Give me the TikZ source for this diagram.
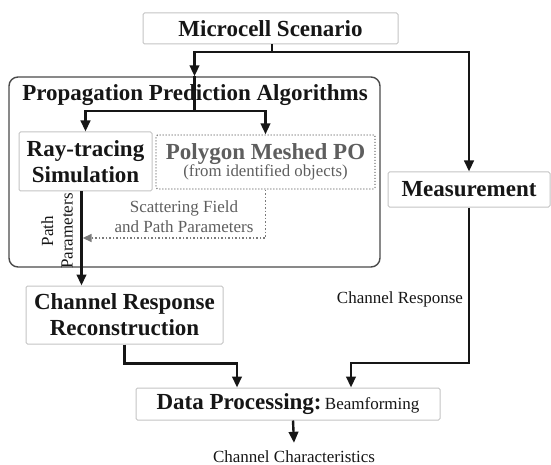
\documentclass[tikz,border=0pt]{standalone}
\usepackage{fontspec}
\setmainfont{Liberation Serif}
\usetikzlibrary{arrows.meta}

\definecolor{ink}{HTML}{161616}
\definecolor{boxgray}{HTML}{C4C4C4}
\definecolor{framegray}{HTML}{4A4A4A}
\definecolor{softgray}{HTML}{5E5E5E}
\definecolor{dotgray}{HTML}{7A7A7A}

\begin{document}
\begin{tikzpicture}[x=1pt,y=-1pt,
  box/.style={draw=boxgray, line width=1pt, rounded corners=1.5pt, inner sep=0pt,
              align=center, text=ink, fill=white},
  big/.style={font=\fontsize{23}{26}\selectfont\bfseries},
  small/.style={font=\fontsize{17}{19.5}\selectfont},
  wire/.style={line width=2.4pt, draw=ink},
  flow/.style={wire, -{Triangle[length=11pt,width=9.5pt]}},
  dotflow/.style={line width=1.5pt, draw=dotgray, dotted,
                  -{Triangle[length=9pt,width=8pt,fill=dotgray]}},
]
\useasboundingbox (0,0) rectangle (551,465);

% outer frame of the prediction block
\node[draw=framegray, line width=1.4pt, rounded corners=9pt, minimum width=371pt,
      minimum height=190pt, inner sep=0pt] (ppa) at (194.5,172) {};
\node[big, text=ink] (ppatitle) at (195,95) {Propagation Prediction Algorithms};

% boxes
\node[box, big, minimum width=255pt, minimum height=31pt] (scen) at (270.5,28.5) {Microcell Scenario};
\node[box, big, minimum width=133pt, minimum height=59pt] (ray) at (85.5,161.5)
  {Ray-tracing\\Simulation};
\node[box, draw=dotgray, dotted, line width=1.3pt, minimum width=219pt, minimum height=54pt,
      text=softgray] (po) at (265.5,162)
  {\fontsize{23}{24}\selectfont\bfseries Polygon Meshed PO\\[-1pt]
   \fontsize{16.8}{18}\selectfont (from identified objects)};
\node[box, big, minimum width=162pt, minimum height=35pt] (meas) at (469,189.5) {Measurement};
\node[box, big, minimum width=197pt, minimum height=58pt] (cr) at (124.5,315)
  {Channel Response\\Reconstruction};
\node[box, minimum width=304pt, minimum height=32pt] (dp) at (288,404)
  {{\fontsize{23}{26}\selectfont\bfseries Data Processing:} {\fontsize{17}{19}\selectfont Beamforming}};

% plain labels
\node[small, text=ink, inner sep=0pt] (out) at (294,457) {Channel Characteristics};
\node[small, text=ink, inner sep=0pt] (chresp) at (400,299) {Channel Response};
\node[small, text=softgray, align=center, inner sep=0pt] (scat) at (184,216.5)
  {Scattering Field\\and Path Parameters};
\node[small, text=ink, align=center, inner sep=0pt, rotate=90] (pathp) at (57,231)
  {Path\\Parameters};

% connectors from the scenario
\draw[wire] ([xshift=1.5pt]scen.south) -- ++(0,7.5) coordinate (split);
\draw[flow] (split) -| (ppa.north);
\draw[flow] (split) -| (meas.north);

% inside the prediction block
\draw[wire] (ppa.north) -- ++(0,35) coordinate (split2);
\draw[flow] (split2) -| (ray.north);
\draw[flow] (split2) -| (po.north);

\path (ray.south) ++(-4,0) coordinate (rtout);
\draw[flow] (rtout) -- (rtout |- cr.north);
\draw[dotflow, shorten >=1.2pt] (po.south) |- (rtout |- 0,238);

% into data processing
\path (dp.north) ++(-51,0) coordinate (dpin1);
\path (dp.north) ++(63,0) coordinate (dpin2);
\draw[flow] (cr.south) -- ++(0,19) -| (dpin1);
\draw[flow] (meas.south) -- (meas.south |- 0,363) -| (dpin2);

% result
\draw[flow] ([xshift=5pt]dp.south) -- ([yshift=8pt]out.north);
\end{tikzpicture}
\end{document}
